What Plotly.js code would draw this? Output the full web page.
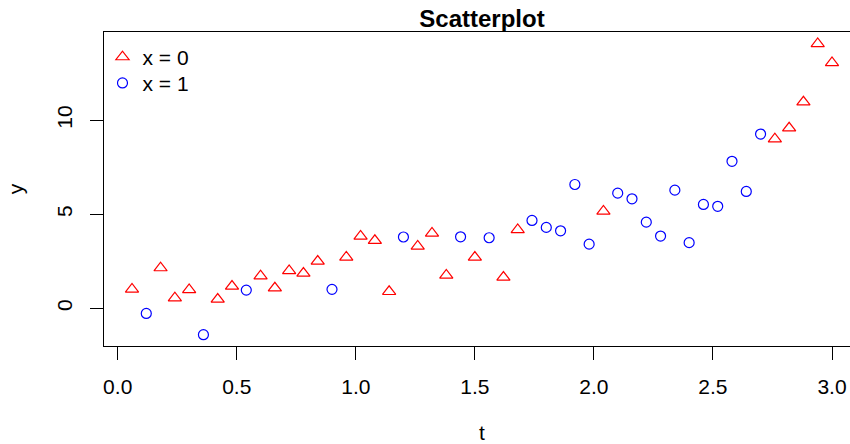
<!DOCTYPE html>
<html>
<head>
<meta charset="utf-8">
<script src="https://cdn.plot.ly/plotly-3.0.1.min.js"></script>
<style>
html, body { margin: 0; padding: 0; overflow: hidden; background: #fff; }
#chart { width: 880px; height: 444px; }
</style>
</head>
<body>
<div id="chart"></div>
<script>
// Series x = 0 (red triangles)
var t0 = [0.06, 0.18, 0.24, 0.30, 0.42, 0.48, 0.60, 0.66, 0.72, 0.78, 0.84, 0.96, 1.02, 1.08,
          1.14, 1.26, 1.32, 1.38, 1.50, 1.62, 1.68, 2.04, 2.76, 2.82, 2.88, 2.94, 3.00];
var y0 = [1.02, 2.15, 0.55, 0.99, 0.48, 1.17, 1.72, 1.08, 2.00, 1.86, 2.50, 2.72, 3.83, 3.60,
          0.89, 3.30, 3.99, 1.76, 2.71, 1.65, 4.18, 5.16, 9.00, 9.58, 10.96, 14.06, 13.05];
// Series x = 1 (blue circles)
var t1 = [0.12, 0.36, 0.54, 0.90, 1.20, 1.44, 1.56, 1.74, 1.80, 1.86, 1.92, 1.98, 2.10, 2.16,
          2.22, 2.28, 2.34, 2.40, 2.46, 2.52, 2.58, 2.64, 2.70];
var y1 = [-0.27, -1.40, 0.97, 1.01, 3.79, 3.80, 3.75, 4.67, 4.30, 4.12, 6.58, 3.41, 6.12, 5.82,
          4.58, 3.84, 6.28, 3.49, 5.52, 5.42, 7.81, 6.21, 9.26];
var seriesNames = ['x = 0', 'x = 1'];
var xTickVals = [0, 0.5, 1.0, 1.5, 2.0, 2.5, 3.0];
var xTickText = ['0.0', '0.5', '1.0', '1.5', '2.0', '2.5', '3.0'];
var yTickVals = [0, 5, 10];
var yTickText = ['0', '5', '10'];

var FONT = 'Liberation Sans, Arial, Helvetica, sans-serif';

var traces = [
  {
    x: t0, y: y0, type: 'scatter', mode: 'markers', name: seriesNames[0], legend: 'legend',
    marker: { symbol: 'triangle-up-open', size: 11.5, color: '#FF0000', line: { width: 1.2, color: '#FF0000' } }
  },
  {
    x: t1, y: y1, type: 'scatter', mode: 'markers', name: seriesNames[1], legend: 'legend2',
    marker: { symbol: 'circle-open', size: 10, color: '#0000FF', line: { width: 1.2, color: '#0000FF' } }
  }
];

var axisCommon = {
  showgrid: false, zeroline: false, showline: true, mirror: true,
  linecolor: '#000', linewidth: 1, ticks: 'outside', ticklen: 13, tickwidth: 1,
  tickcolor: '#000', tickfont: { family: FONT, size: 21, color: '#000' }
};

var legendCommon = {
  x: -0.002, xanchor: 'left', yanchor: 'top',
  bgcolor: 'rgba(0,0,0,0)', borderwidth: 0,
  font: { family: FONT, size: 21, color: '#000' }
};

var layout = {
  width: 880, height: 444,
  margin: { l: 104, r: 20, t: 32, b: 98 },
  paper_bgcolor: '#fff', plot_bgcolor: '#fff',
  font: { family: FONT, size: 21, color: '#000' },
  title: {
    text: 'Scatterplot',
    font: { family: FONT, size: 24, color: '#000', weight: 700 },
    x: 0.5, xref: 'paper', xanchor: 'center',
    y: 0.957, yref: 'container', yanchor: 'middle'
  },
  xaxis: Object.assign({}, axisCommon, {
    range: [-0.0576, 3.1176], tickmode: 'array', tickvals: xTickVals, ticktext: xTickText,
    ticklabelstandoff: 9,
    title: { text: 't', font: { family: FONT, size: 21, color: '#000' }, standoff: 29 }
  }),
  yaxis: Object.assign({}, axisCommon, {
    range: [-2.0, 14.68], tickmode: 'array', tickvals: yTickVals, ticktext: yTickText,
    tickangle: -90, ticklabelstandoff: 10,
    title: { text: 'y', font: { family: FONT, size: 21, color: '#000' }, standoff: 23 }
  }),
  showlegend: true,
  legend: Object.assign({}, legendCommon, { y: 0.985 }),
  legend2: Object.assign({}, legendCommon, { y: 0.902 })
};

Plotly.newPlot('chart', traces, layout, { displayModeBar: false, staticPlot: true });
</script>
</body>
</html>
